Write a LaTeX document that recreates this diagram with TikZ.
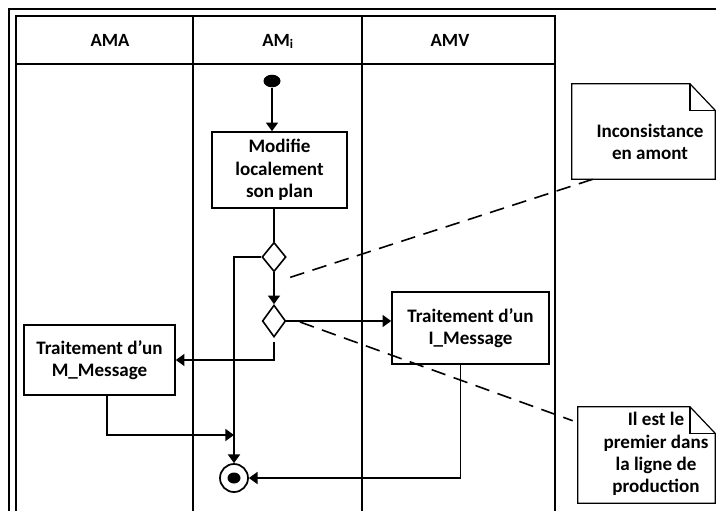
\documentclass[tikz,border=0pt]{standalone}
\usepackage{fontspec}
\setmainfont{Carlito}
\usetikzlibrary{arrows.meta,positioning,shapes.geometric}
\newcommand{\actfont}{\fontsize{14.3pt}{16.8pt}\selectfont\bfseries}
\newcommand{\headfont}{\fontsize{14pt}{16pt}\selectfont\bfseries}
\newcommand{\dogear}[1]{%
  \draw[lane] (#1.south west) -- (#1.north west) -- ([xshift=-19pt]#1.north east)
    -- ([yshift=-20pt]#1.north east) -- (#1.south east) -- cycle;
  \draw[lane] ([xshift=-19pt]#1.north east) |- ([yshift=-20pt]#1.north east);}
\tikzset{
  lane/.style={line width=0.9pt},
  head/.style={font=\headfont, anchor=base},
  act/.style={draw, line width=1.2pt, font=\actfont, align=center, inner sep=2pt},
  dec/.style={draw, diamond, line width=1.2pt, inner sep=0pt},
  flow/.style={line width=1.3pt, -{Triangle[length=6.5pt,width=9pt]}},
  note/.style={inner sep=0pt},
  notetext/.style={font=\actfont, align=center},
  link/.style={line width=1.2pt, dash pattern=on 11pt off 6.5pt},
}

\begin{document}
\begin{tikzpicture}[x=0.75pt, y=-0.75pt]
  \useasboundingbox (0,0) rectangle (716,511);
  % Swimlane frame
  \draw[lane] (9,511) -- (9,9) -- (716,9);
  \draw[lane] (16,511) -- (16,16) -- (555,16) -- (555,511);
  \draw[lane] (16,64) -- (555,64);
  \draw[lane] (193,16) -- (193,511);
  \draw[lane] (362,16) -- (362,511);
  % Lane headers
  \node[head] (hama) at (110,46) {AMA};
  \node[head] (hami) at (278,46) {AM\textsubscript{i}};
  \node[head] (hamv) at (450,46) {AMV};

  % Activities
  \node[ellipse, fill=black, minimum width=12.75pt, minimum height=9.4pt, inner sep=0pt] (start) at (272,81) {};
  \node[act, minimum width=101pt, minimum height=57pt] (modif) at (279.5,170) {Modifie\\localement\\son plan};
  \node[dec, minimum width=18pt, minimum height=22pt] (d1) at (274,257) {};
  \node[dec, minimum width=17.5pt, minimum height=24pt] (d2) at (274,321) {};
  \node[act, minimum width=117.75pt, minimum height=54pt] (imsg) at (470.5,328) {Traitement d'un\\I\_Message};
  \node[act, minimum width=113.25pt, minimum height=52.5pt] (mmsg) at (99.5,360) {Traitement d'un\\M\_Message};
  \node[circle, draw, line width=1.3pt, minimum size=21pt, inner sep=0pt] (endn) at (234,478) {};
  \node[ellipse, fill=black, minimum width=9.75pt, minimum height=8.25pt, inner sep=0pt] (endd) at (endn) {};
  \coordinate (j1) at (234,435);

  % Flows
  \draw[flow] (start) -- (start |- modif.north);
  \draw[line width=1.3pt] (d1 |- modif.south) -- (d1.north);
  \draw[flow] (d1) -- (d2);
  \draw[flow] (d1.west) -| (endn.north);
  \draw[flow] (d2.east) -- (d2.east -| imsg.west);
  \draw[flow, shorten <=3pt] (d2.south) |- (mmsg.east);
  \draw[flow] ([xshift=5.6pt]mmsg.south) |- (j1);
  \draw[flow] ([xshift=-7.5pt]imsg.south) |- (endn.east);

  % Notes
  \node[note, minimum width=107.25pt, minimum height=71.25pt] (n1) at (643.5,131.5) {};
  \dogear{n1}
  \node[notetext] (t1) at (650,142) {Inconsistance\\en amont};
  \node[note, minimum width=102.75pt, minimum height=72pt] (n2) at (646.5,455) {};
  \dogear{n2}
  \node[notetext] (t2) at (656,454) {Il est le\\premier dans\\la ligne de\\production};
  \coordinate (c1) at (282,280);
  \coordinate (c2) at (300,322);
  \draw[link] ([xshift=15.75pt]n1.south west) -- (c1);
  \draw[link] (c2) -- ([xshift=-3.75pt,yshift=-10.5pt]n2.north west);
\end{tikzpicture}
\end{document}
